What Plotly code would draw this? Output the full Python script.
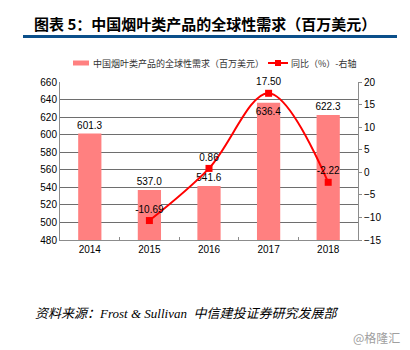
import plotly.graph_objects as go

# Chart data
years = ["2014", "2015", "2016", "2017", "2018"]
demand = [601.3, 537.0, 541.6, 636.4, 622.3]          # 百万美元
yoy_years = ["2015", "2016", "2017", "2018"]
yoy = [-10.69, 0.86, 17.50, -2.22]                    # %

bar_name = "中国烟叶类产品的全球性需求（百万美元）"
line_name = "同比（%）-右轴"

CJK = "Noto Sans CJK SC, Arial, sans-serif"
LAT = "Liberation Sans, Arial, sans-serif"

W, H = 410, 350
ML, MR, MT, MB = 60, 52, 82, 110
PW, PH = W - ML - MR, H - MT - MB


def px(x):
    return (x - ML) / PW


def py(y):
    return (H - MB - y) / PH


bar_text_pos = ["outside", "outside", "outside", "inside", "outside"]

fig = go.Figure()
fig.add_trace(go.Bar(
    x=years, y=demand, name=bar_name,
    marker=dict(color="#FF8080", line=dict(width=0)),
    width=0.39,
    text=[f"{v:.1f}" for v in demand],
    textposition=bar_text_pos,
    insidetextanchor="end",
    textangle=0,
    constraintext="none",
    textfont=dict(family=LAT, size=10, color="#000000"),
    cliponaxis=False,
    yaxis="y",
    showlegend=False,
))
fig.add_trace(go.Scatter(
    x=yoy_years, y=yoy, name=line_name,
    mode="lines+markers+text",
    line=dict(color="#FF0000", width=2, shape="spline", smoothing=1.0),
    marker=dict(symbol="square", size=7, color="#FF0000"),
    text=[f"{v:.2f}" for v in yoy],
    textposition="top center",
    textfont=dict(family=LAT, size=10, color="#000000"),
    cliponaxis=False,
    yaxis="y2",
    showlegend=False,
))

fig.update_layout(
    width=W, height=H,
    margin=dict(l=ML, r=MR, t=MT, b=MB),
    paper_bgcolor="white", plot_bgcolor="white",
    showlegend=False,
    bargap=0.6,
    xaxis=dict(
        type="category",
        showline=True, linecolor="#8C8C8C", linewidth=1,
        ticks="inside", ticklen=3, tickcolor="#8C8C8C", tickson="boundaries",
        tickfont=dict(family=LAT, size=10, color="#000000"),
        showgrid=False,
    ),
    yaxis=dict(
        range=[480, 660], dtick=20,
        showline=True, linecolor="#8C8C8C", linewidth=1,
        showgrid=True, gridcolor="#6E6E6E", gridwidth=1,
        ticks="", zeroline=False,
        tickfont=dict(family=LAT, size=10, color="#000000"),
    ),
    yaxis2=dict(
        overlaying="y", side="right",
        range=[-15, 20], dtick=5,
        showline=True, linecolor="#8C8C8C", linewidth=1,
        ticks="outside", ticklen=3, tickcolor="#8C8C8C",
        showgrid=False, zeroline=False,
        tickfont=dict(family=LAT, size=10, color="#000000"),
    ),
)

# Legend row
fig.add_shape(type="rect", xref="paper", yref="paper",
              x0=px(73), x1=px(89), y0=py(65.5), y1=py(60.5),
              fillcolor="#FF8080", line=dict(width=0))
fig.add_annotation(text=bar_name, xref="paper", yref="paper",
                   x=px(91), y=py(63), xanchor="left", yanchor="middle",
                   showarrow=False,
                   font=dict(family=CJK, size=9, color="#333333"))
fig.add_shape(type="line", xref="paper", yref="paper",
              x0=px(268), x1=px(288), y0=py(63), y1=py(63),
              line=dict(color="#FF0000", width=2))
fig.add_shape(type="rect", xref="paper", yref="paper",
              x0=px(275), x1=px(281), y0=py(66), y1=py(60),
              fillcolor="#FF0000", line=dict(width=0))
fig.add_annotation(text=line_name, xref="paper", yref="paper",
                   x=px(289), y=py(63), xanchor="left", yanchor="middle",
                   showarrow=False,
                   font=dict(family=CJK, size=9, color="#333333"))

# Title and rule beneath it
fig.add_annotation(
    text="<b>图表 5：中国烟叶类产品的全球性需求（百万美元）</b>",
    xref="paper", yref="paper", x=px(32), y=py(23),
    xanchor="left", yanchor="middle", showarrow=False,
    font=dict(family=CJK, size=15, color="#000000"),
)
fig.add_shape(
    type="line", xref="paper", yref="paper",
    x0=px(23), x1=px(397), y0=py(36.5), y1=py(36.5),
    line=dict(color="#0B4F8A", width=3),
)

# Source note and watermark
fig.add_annotation(
    text="<i>资料来源：Frost &amp; Sullivan  中信建投证券研究发展部</i>",
    xref="paper", yref="paper", x=px(33), y=py(313),
    xanchor="left", yanchor="middle", showarrow=False,
    font=dict(family="Liberation Serif, Noto Sans CJK SC, serif", size=13, color="#000000"),
)
fig.add_annotation(
    text="@格隆汇",
    xref="paper", yref="paper", x=px(402), y=py(337),
    xanchor="right", yanchor="middle", showarrow=False,
    font=dict(family=CJK, size=12, color="#A0A0A0"),
)

fig.write_html("out.html")
